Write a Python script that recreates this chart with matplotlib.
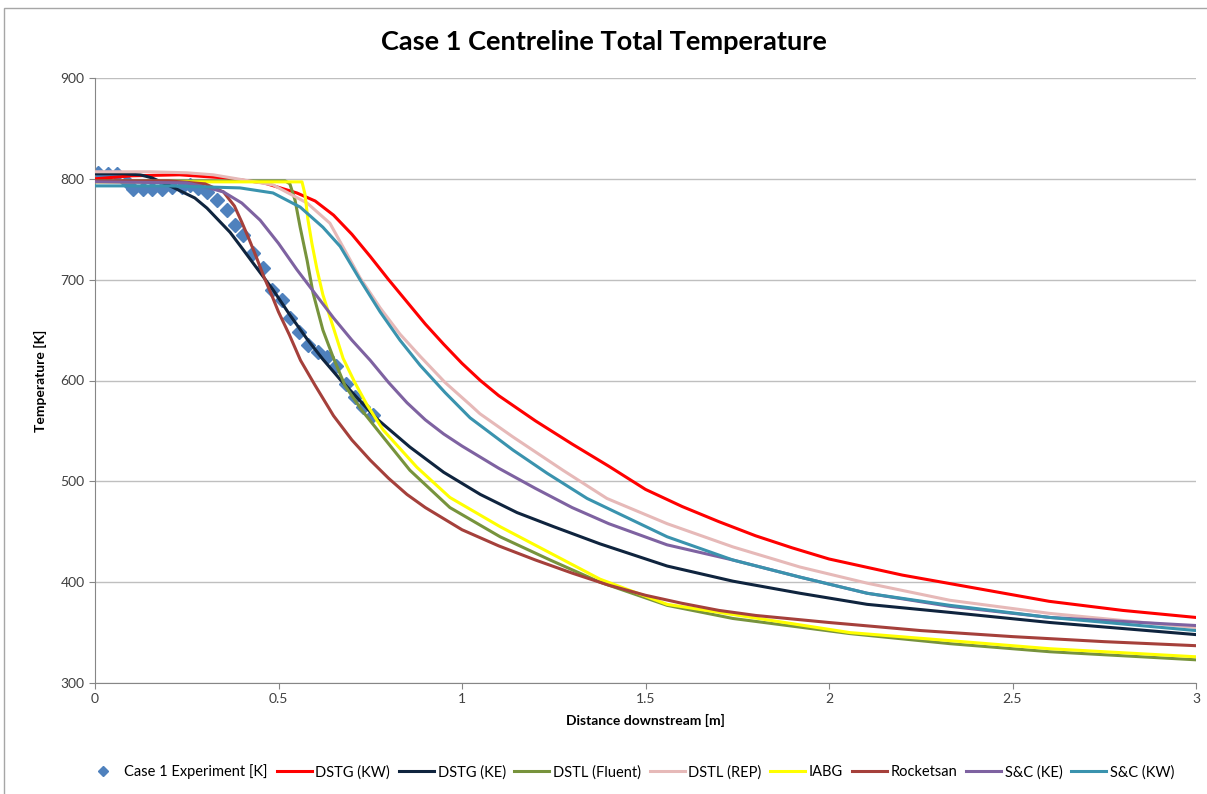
import matplotlib
matplotlib.use("Agg")
import matplotlib.pyplot as plt
from matplotlib.patches import Rectangle
import numpy as np

plt.rcParams['font.family'] = ['Lato', 'DejaVu Sans']

# pixel-read data, x in m, T in K
exp_x = [0.008, 0.035, 0.060, 0.087, 0.104, 0.131, 0.155, 0.183, 0.210, 0.237,
         0.259, 0.281, 0.305, 0.332, 0.360, 0.381, 0.403, 0.431, 0.458, 0.482,
         0.510, 0.531, 0.556, 0.580, 0.608, 0.632, 0.657, 0.684, 0.708, 0.730, 0.757]
exp_t = [806, 805, 805, 797, 790, 790, 790, 790, 792, 792,
         794, 791, 787, 779, 769, 754, 744, 726, 712, 690,
         680, 662, 648, 635, 628, 623, 614, 597, 584, 574, 566]

dstg_kw_x = [0, 0.10, 0.23, 0.35, 0.46, 0.55, 0.60, 0.65, 0.70, 0.75, 0.80, 0.85,
             0.90, 0.95, 1.00, 1.05, 1.10, 1.20, 1.30, 1.40, 1.50, 1.60, 1.70,
             1.80, 1.90, 2.00, 2.20, 2.40, 2.60, 2.80, 3.00]
dstg_kw_t = [800, 803, 804, 801, 796, 786, 778, 764, 745, 723, 700, 678,
             656, 636, 617, 600, 585, 560, 537, 515, 492, 475, 460,
             446, 434, 423, 407, 394, 381, 372, 365]

dstg_ke_x = [0, 0.076, 0.123, 0.155, 0.210, 0.272, 0.305, 0.368, 0.395, 0.450, 0.485,
             0.531, 0.578, 0.621, 0.668, 0.768, 0.858, 0.950, 1.050, 1.150, 1.250,
             1.376, 1.559, 1.738, 1.921, 2.104, 2.330, 2.602, 3.0]
dstg_ke_t = [805, 805, 804, 801, 792, 781, 771, 747, 734, 707, 690,
             665, 641, 621, 601, 562, 534, 509, 487, 469, 455,
             438, 416, 401, 389, 378, 370, 360, 348]

dstl_fluent_x = [0, 0.518, 0.531, 0.545, 0.559, 0.578, 0.594, 0.621, 0.649, 0.681, 0.728,
                 0.785, 0.858, 0.967, 1.104, 1.240, 1.376, 1.559, 1.738, 2.057, 2.330,
                 2.602, 3.0]
dstl_fluent_t = [798, 798, 795, 779, 752, 719, 687, 650, 623, 595, 570,
                 544, 511, 474, 445, 422, 400, 377, 364, 349, 339,
                 331, 323]

dstl_rep_x = [0, 0.15, 0.25, 0.322, 0.485, 0.578, 0.640, 0.722, 0.777, 0.831, 0.886,
              0.954, 1.022, 1.049, 1.139, 1.275, 1.395, 1.559, 1.738, 1.921, 2.104,
              2.330, 2.602, 3.0]
dstl_rep_t = [807, 807, 806, 804, 794, 776, 756, 702, 672, 646, 624,
              598, 576, 567, 544, 511, 483, 458, 435, 415, 399,
              382, 369, 355]

iabg_x = [0, 0.564, 0.572, 0.580, 0.591, 0.605, 0.621, 0.649, 0.676, 0.708, 0.741,
          0.785, 0.877, 0.967, 1.104, 1.240, 1.376, 1.559, 2.057, 2.602, 3.0]
iabg_t = [797, 797, 785, 760, 736, 710, 685, 653, 622, 598, 576,
          551, 514, 484, 455, 429, 403, 378, 350, 334, 326]

rocketsan_x = [0, 0.20, 0.30, 0.35, 0.38, 0.40, 0.42, 0.44, 0.46, 0.48, 0.50,
               0.53, 0.56, 0.60, 0.65, 0.70, 0.75, 0.80, 0.85, 0.90, 0.95,
               1.00, 1.10, 1.20, 1.30, 1.40, 1.50, 1.60, 1.70, 1.80, 2.00,
               2.25, 2.50, 2.75, 3.00]
rocketsan_t = [798, 798, 795, 787, 773, 757, 740, 722, 703, 686, 668,
               645, 620, 595, 565, 541, 521, 503, 487, 474, 463,
               452, 436, 422, 409, 397, 387, 379, 372, 367, 360,
               352, 346, 341, 337]

sc_ke_x = [0, 0.25, 0.30, 0.35, 0.40, 0.45, 0.50, 0.55, 0.60, 0.65, 0.70,
           0.75, 0.80, 0.85, 0.90, 0.95, 1.00, 1.10, 1.20, 1.30, 1.40,
           1.559, 1.738, 1.921, 2.104, 2.330, 2.602, 3.0]
sc_ke_t = [797, 796, 792, 787, 776, 759, 736, 710, 686, 662, 640,
           620, 598, 578, 561, 547, 535, 513, 493, 474, 458,
           437, 422, 405, 389, 376, 365, 357]

sc_kw_x = [0, 0.20, 0.30, 0.395, 0.485, 0.559, 0.621, 0.668, 0.722, 0.777, 0.831,
           0.886, 0.954, 1.022, 1.139, 1.232, 1.341, 1.559, 1.738, 1.921, 2.104,
           2.330, 2.602, 3.0]
sc_kw_t = [793, 793, 792, 791, 786, 772, 752, 733, 700, 668, 640,
           615, 588, 563, 531, 508, 483, 445, 422, 405, 389,
           377, 365, 352]

series = [
    ("DSTG (KW)", dstg_kw_x, dstg_kw_t, "#FF0000"),
    ("DSTG (KE)", dstg_ke_x, dstg_ke_t, "#0F243E"),
    ("DSTL (Fluent)", dstl_fluent_x, dstl_fluent_t, "#77933C"),
    ("DSTL (REP)", dstl_rep_x, dstl_rep_t, "#E6B9B8"),
    ("IABG", iabg_x, iabg_t, "#FFFF00"),
    ("Rocketsan", rocketsan_x, rocketsan_t, "#A5403B"),
    ("S&C (KE)", sc_ke_x, sc_ke_t, "#7E62A1"),
    ("S&C (KW)", sc_kw_x, sc_kw_t, "#3A93AE"),
]

fig = plt.figure(figsize=(12.07, 7.94), dpi=100)
ax = fig.add_axes([95 / 1207, 1 - 683 / 794, (1196 - 95) / 1207, (683 - 78) / 794])

# chart frame
fig.patches.append(Rectangle((4 / 1207, -0.01), 1.0, 1 - 8 / 794 + 0.01,
                             transform=fig.transFigure, fill=False,
                             edgecolor="#A6A6A6", lw=1.0))

ax.plot(exp_x, exp_t, linestyle="none", marker="D", markersize=7,
        color="#4F81BD", label="Case 1 Experiment [K]", zorder=2)
for name, xs, ts, col in series:
    ax.plot(xs, ts, color=col, lw=2.2, label=name, zorder=3,
            solid_joinstyle="round")

ax.set_xlim(0, 3)
ax.set_ylim(300, 900)
ax.set_xticks(np.arange(0, 3.01, 0.5))
ax.set_xticklabels(["0", "0.5", "1", "1.5", "2", "2.5", "3"])
ax.set_yticks(np.arange(300, 901, 100))
ax.yaxis.grid(True, color="#BFBFBF", lw=1.0)
ax.set_axisbelow(True)
for s in ["top", "right"]:
    ax.spines[s].set_visible(False)
for s in ["left", "bottom"]:
    ax.spines[s].set_color("#868686")
ax.tick_params(axis="both", colors="#868686", labelcolor="#404040",
               labelsize=10, length=4, direction="out")

ax.set_xlabel("Distance downstream [m]", fontsize=10, fontweight="bold", labelpad=6)
ax.set_ylabel("Temperature [K]", fontsize=10, fontweight="bold", labelpad=10)
fig.text(0.5, 1 - 42 / 794, "Case 1 Centreline Total Temperature", ha="center",
         va="center", fontsize=19.5, fontweight="bold", color="#000000")

fig.legend(loc="center", bbox_to_anchor=(0.522, 1 - 772 / 794), ncol=9, frameon=False,
           fontsize=10.5, handlelength=2.4, columnspacing=0.6, handletextpad=0.25,
           markerscale=0.7)

fig.savefig("out.png", dpi=100)
